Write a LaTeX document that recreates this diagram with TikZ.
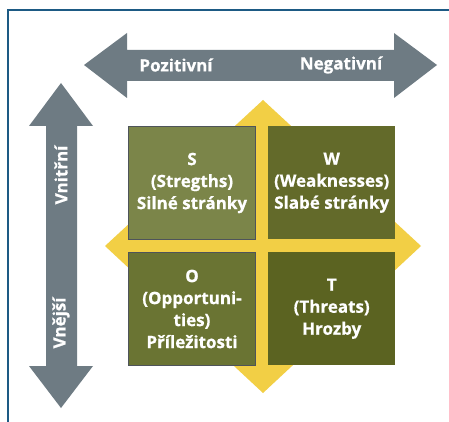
\documentclass[tikz,border=0pt]{standalone}
\usepackage{fontspec}
\setmainfont{Open Sans}
\newfontfamily\lblfont{Open Sans Bold}[FakeBold=0.7]
\definecolor{framec}{HTML}{1D5A84}
\definecolor{arrowgray}{HTML}{6E7B83}
\definecolor{swotyellow}{HTML}{F2CF45}
\definecolor{sfill}{HTML}{7B8549}
\definecolor{ofill}{HTML}{6A7433}
\definecolor{wfill}{HTML}{636A2A}
\definecolor{tfill}{HTML}{5B6321}
\definecolor{boxedge}{HTML}{4E545A}
\begin{document}
\begin{tikzpicture}[x=1pt,y=-1pt,
  lbl/.style={text=white,font=\lblfont\fontsize{17}{22}\selectfont,align=center,inner sep=0pt},
  quad/.style={minimum width=127pt,minimum height=113pt,inner sep=0pt,anchor=north west}]
\useasboundingbox[fill=white] (0,0) rectangle (449,422);
% frame
\draw[framec,line width=2pt] (8,423) -- (8,10) -- (450,10);
% horizontal double arrow
\fill[arrowgray] (84,65) -- (127,33) -- (127,50) -- (394,50) -- (394,33) -- (437,65)
  -- (394,98) -- (394,81) -- (127,81) -- (127,98) -- cycle;
\node[lbl] (pos) at (176,65) {Pozitivní};
\node[lbl] (neg) at (341,65) {Negativní};
% vertical double arrow
\fill[arrowgray] (61,83) -- (93,126) -- (77,126) -- (77,366) -- (93,366) -- (61,408)
  -- (29,366) -- (46,366) -- (46,126) -- (29,126) -- cycle;
\node[lbl,rotate=90] (vni) at (61,175) {Vnitřní};
\node[lbl,rotate=90] (vne) at (61,323) {Vnější};
% yellow diamond
\fill[swotyellow] (263,100) -- (421,246) -- (263,393) -- (105,246) -- cycle;
% quadrants
\node[quad,fill=sfill,draw=boxedge,line width=1pt] (S) at (128,126) {};
\node[quad,fill=wfill] (W) at (268,126) {};
\node[quad,fill=ofill,draw=boxedge,line width=1pt] (O) at (128,252) {};
\node[quad,fill=tfill] (T) at (268,252) {};
\node[lbl] at (S.center) {S\\(Stregths)\\Silné stránky};
\node[lbl] at (W.center) {W\\(Weaknesses)\\Slabé stránky};
\node[lbl] at (O.center) {O\\(Opportuni-\\ties)\\Příležitosti};
\node[lbl] at (T.center) {T\\(Threats)\\Hrozby};
\end{tikzpicture}
\end{document}
